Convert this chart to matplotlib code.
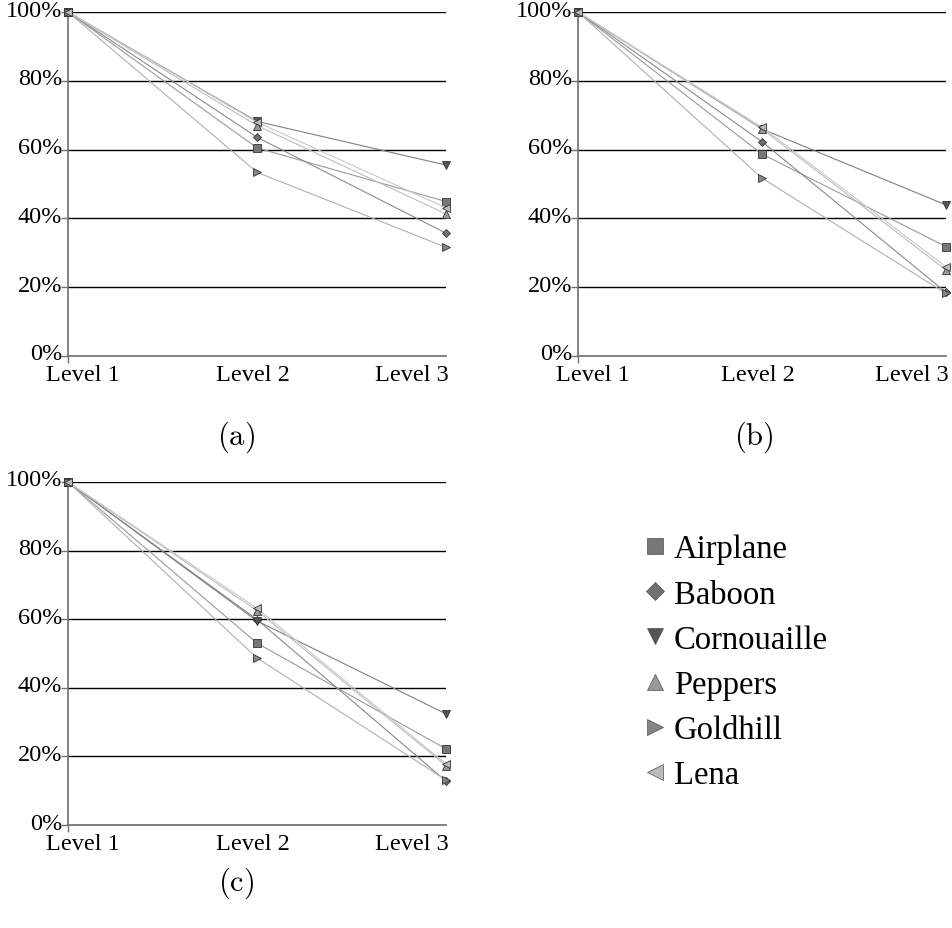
import matplotlib
matplotlib.use("Agg")
import matplotlib.pyplot as plt
import matplotlib.transforms as mtransforms

plt.rcParams['font.family'] = ['Liberation Serif', 'DejaVu Serif']
plt.rcParams['mathtext.fontset'] = 'cm'

levels = ["Level 1", "Level 2", "Level 3"]
series = ["Airplane", "Baboon", "Cornouaille", "Peppers", "Goldhill", "Lena"]
yticks = [0, 20, 40, 60, 80, 100]

panel_a = {
    "Airplane":    [100, 60.5, 44.9],
    "Baboon":      [100, 63.6, 35.7],
    "Cornouaille": [100, 68.2, 55.5],
    "Peppers":     [100, 67.0, 41.3],
    "Goldhill":    [100, 53.4, 31.6],
    "Lena":        [100, 68.0, 43.1],
}
panel_b = {
    "Airplane":    [100, 58.7, 31.8],
    "Baboon":      [100, 62.3, 18.5],
    "Cornouaille": [100, 66.0, 43.9],
    "Peppers":     [100, 66.0, 25.0],
    "Goldhill":    [100, 51.7, 18.2],
    "Lena":        [100, 66.5, 25.9],
}
panel_c = {
    "Airplane":    [100, 53.0, 22.2],
    "Baboon":      [100, 59.9, 12.8],
    "Cornouaille": [100, 59.5, 32.4],
    "Peppers":     [100, 62.5, 17.3],
    "Goldhill":    [100, 48.7, 13.1],
    "Lena":        [100, 63.2, 17.8],
}
captions = ["(a)", "(b)", "(c)"]

styles = {
    "Airplane":    dict(marker='s', mfc='#777777', line='#9a9a9a'),
    "Baboon":      dict(marker='D', mfc='#707070', line='#8a8a8a'),
    "Cornouaille": dict(marker='v', mfc='#555555', line='#808080'),
    "Peppers":     dict(marker='^', mfc='#999999', line='#bdbdbd'),
    "Goldhill":    dict(marker='>', mfc='#858585', line='#b0b0b0'),
    "Lena":        dict(marker='<', mfc='#bbbbbb', line='#c8c8c8'),
}
msize = {'s': 5.5, 'D': 4.5, 'v': 6, '^': 6, '>': 6, '<': 6}

fig = plt.figure(figsize=(9.52, 9.29), dpi=100)

W, H = 952, 929
def rect(x0, x1, y0, y1):
    return [x0 / W, 1 - y1 / H, (x1 - x0) / W, (y1 - y0) / H]

ax_a = fig.add_axes(rect(68, 446, 13, 357))
ax_b = fig.add_axes(rect(578, 946, 13, 357))
ax_c = fig.add_axes(rect(68, 446, 483, 826))
panels = [(ax_a, panel_a), (ax_b, panel_b), (ax_c, panel_c)]
caption_xy = [(236, 437), (754, 437), (236, 883)]

label_dx = [15, -4, 3]
label_ha = ['center', 'center', 'right']

for k, (ax, data) in enumerate(panels):
    x = list(range(len(levels)))
    for name in series:
        st = styles[name]
        ax.plot(x, data[name], color=st['line'], lw=0.8,
                marker=st['marker'], ms=msize[st['marker']],
                mfc=st['mfc'], mec='#333333', mew=0.6,
                clip_on=False, zorder=3, label=name)
    ax.set_xlim(0, 2)
    ax.set_ylim(0, 100)
    ax.set_yticks(yticks)
    ax.set_yticklabels([])
    ax.yaxis.grid(True, color='black', lw=1.0)
    ax.set_axisbelow(True)
    ax.set_xticks(x)
    ax.set_xticklabels([])
    ax.tick_params(axis='x', length=5, width=1, color='#707070')
    ax.tick_params(axis='y', length=5, width=1, color='#707070')
    for i, t in enumerate(ax.xaxis.get_major_ticks()):
        if i > 0:
            t.tick1line.set_visible(False)
    for s in ['top', 'right']:
        ax.spines[s].set_visible(False)
    for s in ['left', 'bottom']:
        ax.spines[s].set_color('#707070')
        ax.spines[s].set_linewidth(1.2)
    # y labels
    for v in yticks:
        off = mtransforms.ScaledTranslation(-6 / 100, 2 / 100, fig.dpi_scale_trans)
        ax.text(0, v, f"{v}%", transform=ax.get_yaxis_transform() + off,
                ha='right', va='center', fontsize=17.5)
    # x labels
    for i, lev in enumerate(levels):
        off = mtransforms.ScaledTranslation(label_dx[i] / 100, -8 / 100, fig.dpi_scale_trans)
        ax.text(x[i], 0, lev, transform=ax.get_xaxis_transform() + off,
                ha=label_ha[i], va='top', fontsize=17.5)
    cx, cy = caption_xy[k]
    fig.text(cx / W, 1 - cy / H, r'$\mathrm{' + captions[k] + '}$',
             fontsize=22, ha='center', va='center')

leg_handles = []
for name in series:
    st = styles[name]
    h, = ax_a.plot([], [], linestyle='none', marker=st['marker'],
                   ms=msize[st['marker']] * 2.0, mfc=st['mfc'], mec='#505050', mew=0.5)
    leg_handles.append(h)
fig.legend(leg_handles, series, loc='upper left',
           bbox_to_anchor=(643 / W, 1 - 535 / H), frameon=False,
           fontsize=23.5, handlelength=0.75, handletextpad=0.2, labelspacing=0.45,
           borderaxespad=0, borderpad=0)

fig.savefig("out.png", dpi=100)
